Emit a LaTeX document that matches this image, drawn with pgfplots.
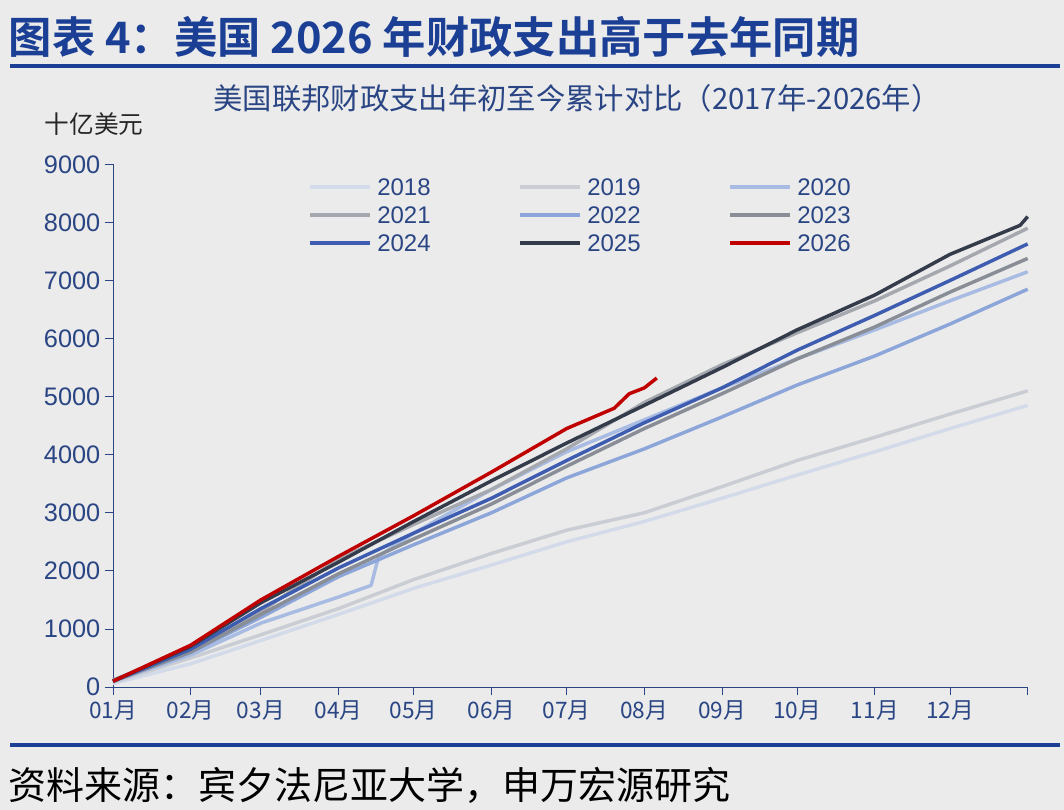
\documentclass[border=0pt]{standalone}
\usepackage{pgfplots}
\pgfplotsset{compat=1.18}
\usepackage{fontspec}
\setmainfont{Liberation Sans}
\newfontfamily\cjk{Noto Sans CJK SC}
\newfontfamily\cjkb{Noto Sans CJK SC Bold}
\definecolor{bg}{HTML}{EBEBEB}
\definecolor{ttl}{HTML}{1B3F94}
\definecolor{tk}{HTML}{2A4584}
\definecolor{cA}{HTML}{D3DBEA}
\definecolor{cB}{HTML}{CACDD3}
\definecolor{cC}{HTML}{A8BBE2}
\definecolor{cD}{HTML}{A5A8AE}
\definecolor{cE}{HTML}{8DA6DA}
\definecolor{cF}{HTML}{888D96}
\definecolor{cG}{HTML}{3E5DB0}
\definecolor{cH}{HTML}{343B4A}
\definecolor{cI}{HTML}{C00000}
\begin{document}
\begin{tikzpicture}
\begin{scope}[x=0.75pt,y=-0.75pt]
\fill[bg] (0,0) rectangle (1064,810);
\path[use as bounding box] (0,0) rectangle (1064,810);
\node[anchor=west,text=ttl,font=\cjkb\fontsize{32.5}{36}\selectfont] at (4,37) {图表 4：美国 2026 年财政支出高于去年同期};
\draw[ttl,line width=2.3pt] (10,66) -- (1060,66);
\draw[ttl,line width=2.3pt] (10,745) -- (1060,745);
\node[anchor=west,text=black,font=\cjk\fontsize{28.5}{32}\selectfont] at (4,785) {资料来源：宾夕法尼亚大学，申万宏源研究};
\node[text=tk,font=\cjk\fontsize{22}{26}\selectfont] at (577,98) {美国联邦财政支出年初至今累计对比（2017年-2026年）};
\node[text=black!85,font=\cjk\fontsize{18.5}{21}\selectfont] at (94,124) {十亿美元};
\foreach \c/\l/\x/\y in {cA/2018/310/187,cB/2019/520/187,cC/2020/730/187,cD/2021/310/215,cE/2022/520/215,cF/2023/730/215,cG/2024/310/243,cH/2025/520/243,cI/2026/730/243}{
 \draw[\c,line width=3pt] (\x,\y) -- ++(60,0);
 \node[anchor=west,text=tk,font=\fontsize{18}{20}\selectfont,inner sep=0] at (\x+67,\y) {\l};
}
\end{scope}
\begin{axis}[at={(84.75pt,-515.25pt)},anchor=south west,scale only axis,
 width=686pt,height=392pt,xmin=0,xmax=365,ymin=0,ymax=9000,
 axis lines=left,axis line style={tk,line width=0.6pt,-},
 xtick={0,31,59,90,120,151,181,212,243,273,304,334,365},
 xticklabels={01月,02月,03月,04月,05月,06月,07月,08月,09月,10月,11月,12月,},
 ytick={0,1000,...,9000},
 tick style={tk,line width=0.6pt},
 x tick label style={font=\cjk\fontsize{17}{19}\selectfont,text=tk,yshift=-1pt},
 y tick label style={font=\fontsize{19}{21}\selectfont,text=tk},
 /pgf/number format/assume math mode=true,
 /pgf/number format/1000 sep={},
 xtick align=outside,ytick align=outside,major tick length=6pt,
 clip=false,every axis plot/.append style={line width=2.6pt,line join=round}]
\addplot[cA] coordinates {(0,60)(31,400)(59,800)(90,1250)(120,1700)(151,2100)(181,2500)(212,2850)(243,3250)(273,3650)(304,4050)(334,4450)(365,4850)};
\addplot[cB] coordinates {(0,80)(31,500)(59,900)(90,1350)(120,1850)(151,2300)(181,2700)(212,3000)(243,3450)(273,3900)(304,4300)(334,4700)(365,5100)};
\addplot[cC] coordinates {(0,100)(31,550)(59,1100)(90,1550)(103,1750)(106,2250)(120,2650)(151,3400)(181,4050)(212,4600)(243,5150)(273,5650)(304,6150)(334,6650)(365,7150)};
\addplot[cD] coordinates {(0,120)(31,650)(59,1300)(90,2200)(120,2800)(151,3400)(181,4100)(212,4900)(243,5550)(273,6100)(304,6650)(334,7250)(365,7900)};
\addplot[cE] coordinates {(0,100)(31,600)(59,1200)(90,1900)(120,2450)(151,3000)(181,3600)(212,4100)(243,4650)(273,5200)(304,5700)(334,6250)(365,6850)};
\addplot[cF] coordinates {(0,100)(31,600)(59,1250)(90,1950)(120,2550)(151,3150)(181,3800)(212,4450)(243,5050)(273,5650)(304,6200)(334,6800)(365,7380)};
\addplot[cG] coordinates {(0,100)(31,650)(59,1350)(90,2050)(120,2650)(151,3250)(181,3900)(212,4550)(243,5150)(273,5800)(304,6400)(334,7000)(365,7630)};
\addplot[cH] coordinates {(0,100)(31,700)(59,1450)(90,2150)(120,2850)(151,3550)(181,4200)(212,4850)(243,5500)(273,6150)(304,6750)(334,7450)(362,7950)(365,8100)};
\addplot[cI] coordinates {(0,100)(31,720)(59,1500)(90,2250)(120,2950)(151,3700)(181,4450)(200,4800)(206,5050)(212,5150)(217,5320)};
\end{axis}
\end{tikzpicture}
\end{document}
